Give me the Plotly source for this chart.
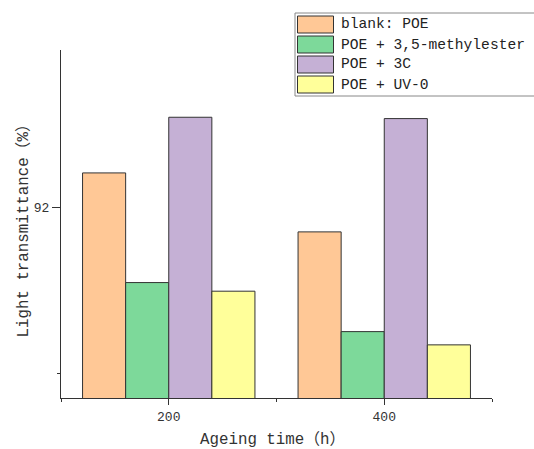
import plotly.graph_objects as go

# ---- data ----
ageing_time = [200, 400]
series_names = ["blank: POE", "POE + 3,5-methylester", "POE + 3C", "POE + UV-0"]
blank_poe = [92.104, 91.926]
poe_methylester = [91.773, 91.625]
poe_3c = [92.272, 92.268]
poe_uv0 = [91.747, 91.585]
series_values = [blank_poe, poe_methylester, poe_3c, poe_uv0]
colors = ["#FFC896", "#7DD99A", "#C5B0D5", "#FFFF9A"]
x_tick_vals = [200, 400]
x_tick_text = ["200", "400"]
y_tick_vals = [92]
y_tick_text = ["92"]

W, H = 534, 449
L, R, T, B = 61, 492, 50, 398  # plot area in page pixels
FONT = "Liberation Mono, Noto Sans CJK SC, monospace"
INK = "#333333"

def px_x(p):
    return (p - L) / (R - L)

def px_y(p):
    return (B - p) / (B - T)

fig = go.Figure()
for name, vals, col in zip(series_names, series_values, colors):
    fig.add_trace(go.Bar(
        x=ageing_time, y=vals, name=name,
        marker=dict(color=col, line=dict(color=INK, width=1)),
        showlegend=False, hoverinfo="skip",
    ))

# manual legend (box, swatches, labels)
shapes = [dict(type="rect", xref="paper", yref="paper",
               x0=px_x(295), x1=px_x(545), y0=px_y(96), y1=px_y(13),
               line=dict(color="#888888", width=1), fillcolor="white", layer="above")]
annotations = []
for i, (name, col) in enumerate(zip(series_names, colors)):
    cy = 24.5 + 20 * i
    shapes.append(dict(type="rect", xref="paper", yref="paper",
                       x0=px_x(297.5), x1=px_x(333.5), y0=px_y(cy + 8.5), y1=px_y(cy - 8.5),
                       line=dict(color=INK, width=1), fillcolor=col, layer="above"))
    annotations.append(dict(text=name, xref="paper", yref="paper",
                            x=px_x(338.5), y=px_y(cy), xanchor="left", yanchor="middle",
                            showarrow=False, font=dict(family=FONT, size=14.6, color="#222222")))

annotations.append(dict(text="Light transmittance（%）", xref="paper", yref="paper",
                        x=px_x(22.5), y=px_y(227), textangle=-90, showarrow=False,
                        xanchor="center", yanchor="middle",
                        font=dict(family=FONT, size=15.8, color="#333333")))
annotations.append(dict(text="Ageing time（h）", xref="paper", yref="paper",
                        x=px_x(272), y=px_y(440), showarrow=False,
                        xanchor="center", yanchor="middle",
                        font=dict(family=FONT, size=15.8, color="#333333")))

fig.update_layout(
    width=W, height=H,
    margin=dict(l=L, r=W - R, t=T, b=H - B, autoexpand=False),
    paper_bgcolor="white", plot_bgcolor="white",
    barmode="group", bargap=0.2, bargroupgap=0,
    showlegend=False,
    shapes=shapes, annotations=annotations,
    font=dict(family=FONT, size=13, color="#333333"),
)
fig.update_xaxes(
    range=[100, 500], tickvals=x_tick_vals, ticktext=x_tick_text,
    ticks="outside", ticklen=6, tickwidth=1, tickcolor=INK,
    minor=dict(tickvals=[100, 300, 500], ticks="outside", ticklen=3, tickwidth=1, tickcolor=INK),
    showline=True, linecolor=INK, linewidth=1, showgrid=False, zeroline=False,
    tickfont=dict(family=FONT, size=13, color="#333333"),
)
fig.update_yaxes(
    range=[91.4246, 92.475], tickvals=y_tick_vals, ticktext=y_tick_text,
    ticks="outside", ticklen=8, tickwidth=1, tickcolor=INK,
    minor=dict(tickvals=[91.5], ticks="outside", ticklen=3.5, tickwidth=1, tickcolor=INK),
    showline=True, linecolor=INK, linewidth=1, showgrid=False, zeroline=False,
    tickfont=dict(family=FONT, size=13, color="#333333"),
)

fig.write_html(
    "out.html",
    config={"displayModeBar": False},
    post_script="document.body.style.margin='0';document.body.style.overflow='hidden';",
)
